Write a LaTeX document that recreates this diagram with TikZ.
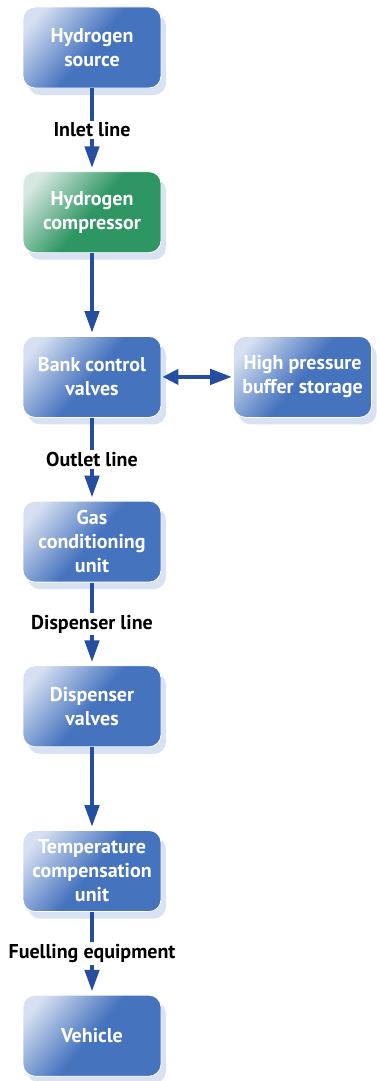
\documentclass[tikz,border=0pt]{standalone}
\usepackage{fontspec}
\setmainfont{PT Sans}
\usetikzlibrary{arrows.meta, shadows}
\definecolor{boxblue}{RGB}{70,115,190}
\definecolor{boxlight}{RGB}{214,224,242}
\definecolor{boxgreen}{RGB}{46,150,98}
\definecolor{greenlight}{RGB}{214,232,226}
\definecolor{shadowblue}{RGB}{216,226,243}
\definecolor{flow}{RGB}{38,78,158}

\pgfdeclarehorizontalshading{blueshade}{100bp}{color(0bp)=(boxlight); color(22bp)=(boxlight); color(50bp)=(boxblue); color(100bp)=(boxblue)}
\pgfdeclarehorizontalshading{greenshade}{100bp}{color(0bp)=(greenlight); color(22bp)=(greenlight); color(50bp)=(boxgreen); color(100bp)=(boxgreen)}

\tikzset{
  stage/.style={rectangle, rounded corners=12pt, minimum width=138pt, minimum height=81pt,
    draw=white, line width=0.8pt, shade, shading=blueshade, shading angle=-40,
    text=white, align=center, font=\bfseries\fontsize{20}{24}\selectfont,
    general shadow={shadow xshift=5pt, shadow yshift=-7pt, fill=shadowblue}},
  greenstage/.style={stage, shading=greenshade},
  flowline/.style={draw=flow, line width=4.5pt, shorten >=3pt, -{Triangle[length=22pt,width=14pt]}},
  pipe/.style={fill=white, text=black, inner sep=2pt, font=\bfseries\fontsize{20}{22}\selectfont},
}

\begin{document}
\begin{tikzpicture}[x=1pt, y=-1pt]
\def\dy{164.7}
\useasboundingbox (0,0) rectangle (376,1081);

% ---- stages ----
\node[stage]      (source)     at (92,47.5)            {Hydrogen\\source};
\node[greenstage] (compressor) at (92,{47.5+\dy})      {Hydrogen\\compressor};
\node[stage]      (bank)       at (92,{47.5+2*\dy})    {Bank control\\valves};
\node[stage]      (buffer)     at (302.5,{47.5+2*\dy}) {High pressure\\buffer storage};
\node[stage]      (cond)       at (92,{47.5+3*\dy})    {Gas\\conditioning\\unit};
\node[stage]      (disp)       at (92,{47.5+4*\dy})    {Dispenser\\valves};
\node[stage]      (temp)       at (92,{47.5+5*\dy})    {Temperature\\compensation\\unit};
\node[stage]      (vehicle)    at (92,{47.5+6*\dy})    {Vehicle};

% ---- lines ----
\draw[flowline] (source) -- node[pipe] {Inlet line} (compressor);
\draw[flowline] (compressor) -- (bank);
\draw[flowline] (bank) -- node[pipe] {Outlet line} (cond);
\draw[flowline] (cond) -- node[pipe] {Dispenser line} (disp);
\draw[flowline] (disp) -- (temp);
\draw[flowline] (temp) -- node[pipe] {Fuelling equipment} (vehicle);
\draw[flowline, shorten >=1pt, shorten <=1pt,
  {Triangle[length=16pt,width=15pt]}-{Triangle[length=22pt,width=15pt]}] (bank) -- (buffer);
\end{tikzpicture}
\end{document}
